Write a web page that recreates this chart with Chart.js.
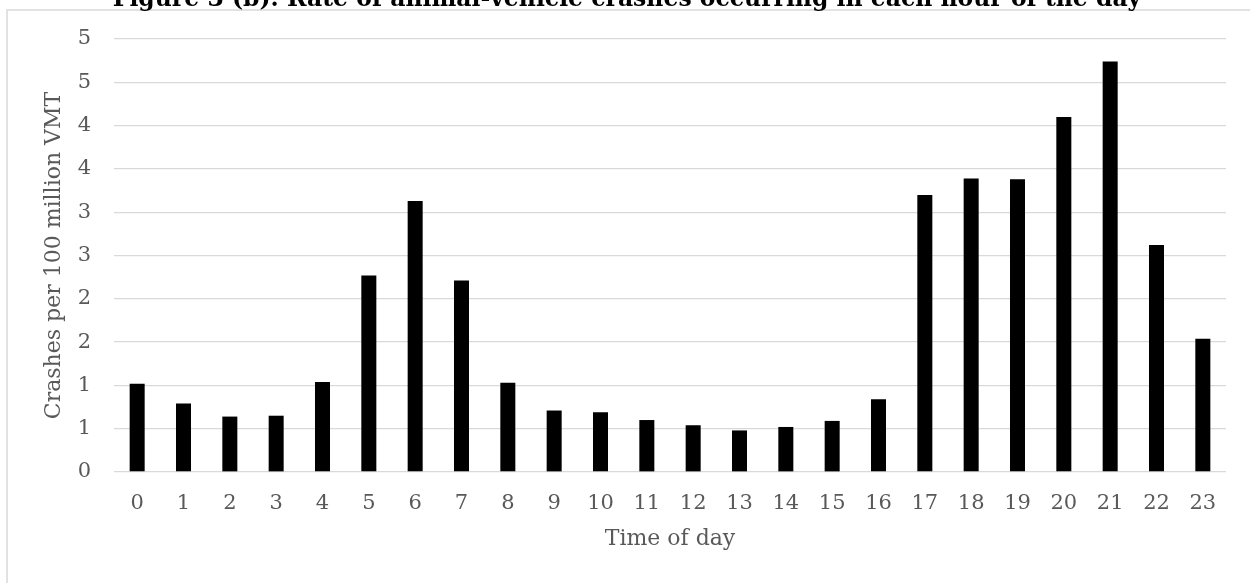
<!DOCTYPE html>
<html>
<head>
<meta charset="utf-8">
<script src="https://cdn.jsdelivr.net/npm/chart.js@4.4.1/dist/chart.umd.min.js"></script>
<style>
  html, body { margin: 0; padding: 0; background: #ffffff; overflow: hidden; }
  #wrap { position: absolute; left: 0; top: 0; width: 1250px; height: 583px; }
</style>
</head>
<body>
<div id="wrap"><canvas id="c" width="1250" height="583"></canvas></div>
<script>
const chartTitle = "Figure 3 (b). Rate of animal-vehicle crashes occurring in each hour of the day";
const hours = ["0","1","2","3","4","5","6","7","8","9","10","11","12","13","14","15","16","17","18","19","20","21","22","23"];
const crashRates = [1.02, 0.79, 0.64, 0.65, 1.04, 2.27, 3.13, 2.21, 1.03, 0.71, 0.69, 0.60, 0.54, 0.48, 0.52, 0.59, 0.84, 3.20, 3.39, 3.38, 4.10, 4.74, 2.62, 1.54];
const yMin = 0, yMax = 5, yStep = 0.5;
const xAxisTitle = "Time of day";
const yAxisTitle = "Crashes per 100 million VMT";

const FONT = "'DejaVu Serif', 'Liberation Serif', serif";
const GRAY_TXT = "#595959";
const GRID = "#d9d9d9";

const framePlugin = {
  id: 'frame',
  beforeDraw(chart) {
    const ctx = chart.ctx;
    ctx.save();
    ctx.fillStyle = '#ffffff';
    ctx.fillRect(0, 0, chart.width, chart.height);
    ctx.strokeStyle = GRID;
    ctx.lineWidth = 1.5;
    ctx.strokeRect(7, 10, 1400, 1000);
    ctx.restore();
  },
  afterDraw(chart) {
    const ctx = chart.ctx;
    ctx.save();
    ctx.fillStyle = '#000000';
    ctx.font = "bold 23.5px " + FONT;
    ctx.textAlign = 'center';
    ctx.textBaseline = 'alphabetic';
    ctx.fillText(chartTitle, 627, 6);
    ctx.restore();
  }
};

new Chart(document.getElementById('c'), {
  type: 'bar',
  data: {
    labels: hours,
    datasets: [{
      data: crashRates,
      backgroundColor: '#000000',
      borderWidth: 0,
      barPercentage: 0.324,
      categoryPercentage: 1.0
    }]
  },
  options: {
    responsive: false,
    animation: false,
    devicePixelRatio: 1,
    layout: { padding: { left: 0, right: 24, top: 39, bottom: 0 } },
    plugins: {
      legend: { display: false },
      tooltip: { enabled: false },
      title: { display: false }
    },
    scales: {
      x: {
        grid: { display: false, drawTicks: false },
        border: { display: false },
        ticks: {
          color: GRAY_TXT,
          font: { family: FONT, size: 21 },
          padding: 19,
          maxRotation: 0,
          autoSkip: false
        },
        title: {
          display: true,
          text: xAxisTitle,
          color: GRAY_TXT,
          font: { family: FONT, size: 22 },
          padding: { top: 0, bottom: 31 }
        },
        afterFit(scale) { scale.height = 111; }
      },
      y: {
        min: yMin,
        max: yMax,
        grid: { color: GRID, lineWidth: 1.3, drawTicks: false },
        border: { display: false },
        ticks: {
          stepSize: yStep,
          color: GRAY_TXT,
          font: { family: FONT, size: 21 },
          padding: 23,
          callback: (v) => String(Math.round(v))
        },
        title: {
          display: true,
          text: yAxisTitle,
          color: GRAY_TXT,
          font: { family: FONT, size: 22 },
          padding: { top: 41, bottom: 0 }
        },
        afterFit(scale) { scale.width = 114; }
      }
    }
  },
  plugins: [framePlugin]
});
</script>
</body>
</html>
